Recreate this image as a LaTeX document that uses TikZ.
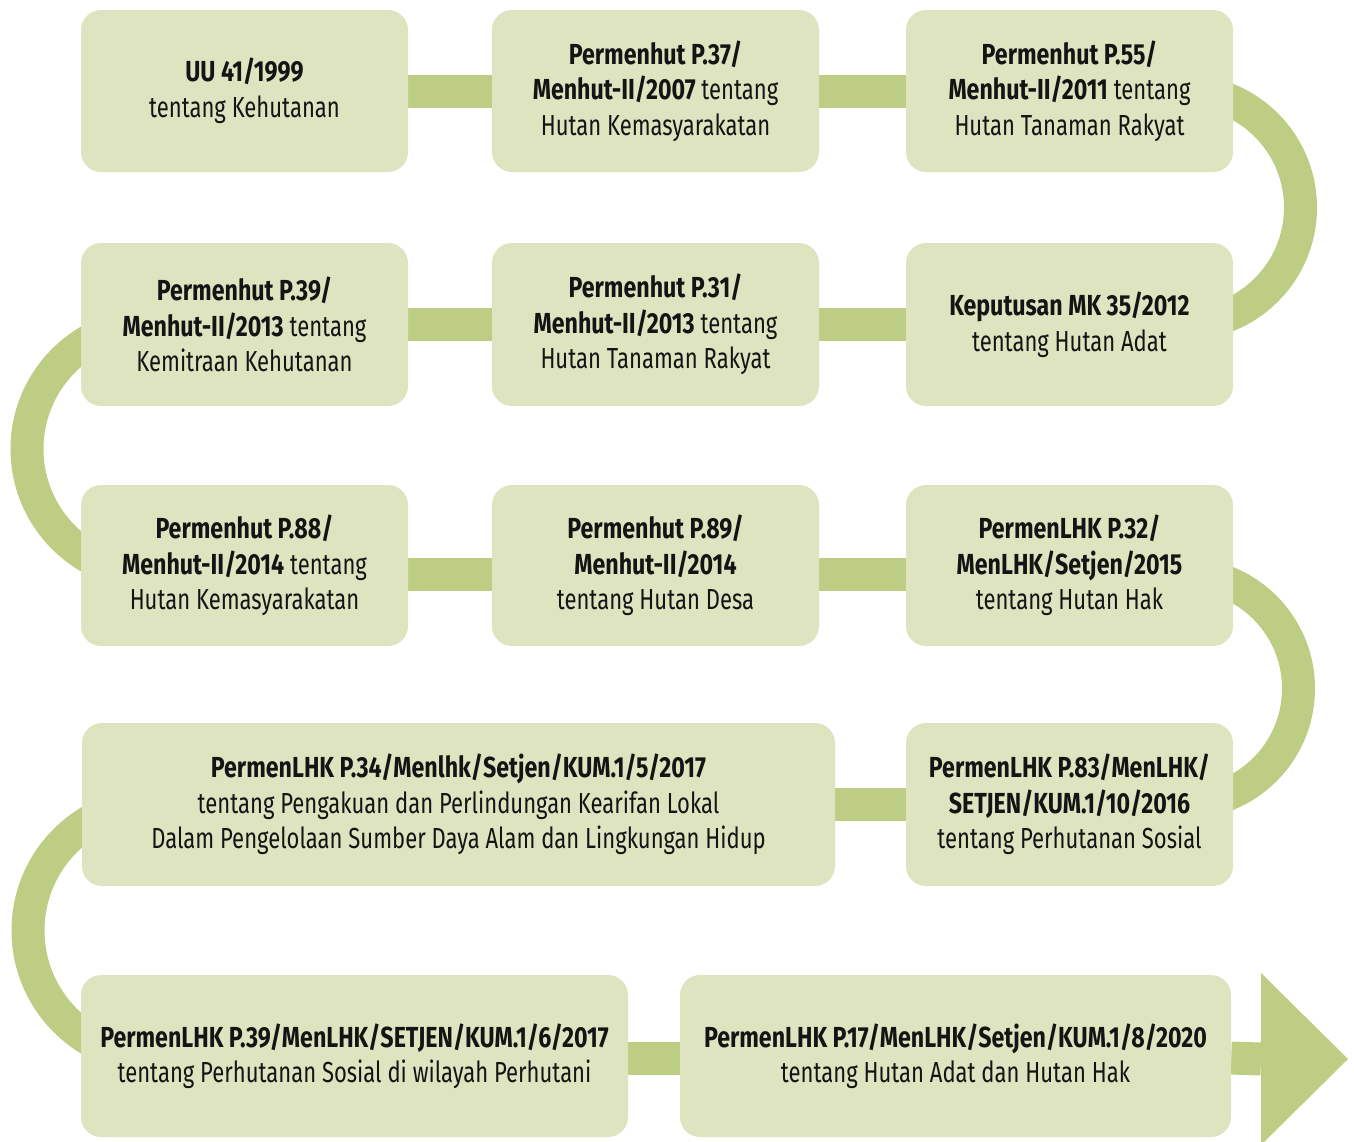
\documentclass[tikz,border=0pt]{standalone}
\usepackage{fontspec}
\setmainfont{Fira Sans}[UprightFeatures={FakeStretch=0.76}, BoldFeatures={FakeStretch=0.80}]
\usetikzlibrary{backgrounds}
\definecolor{boxfill}{RGB}{223,228,192}
\definecolor{barcol}{RGB}{189,206,132}
\begin{document}
\begin{tikzpicture}[x=1pt,y=-1pt,
  box/.style={fill=boxfill, rounded corners=20pt, align=center, inner sep=0pt,
    font=\fontsize{29}{35.5}\selectfont, text=black!92},
  narrowbox/.style={box, minimum width=327pt},
  conn/.style={draw=barcol, line width=33pt}]
\useasboundingbox (0,0) rectangle (1354,1141);
% row 1
\node[narrowbox, minimum height=162pt] (b1) at (244.5,91) {\textbf{UU 41/1999}\\tentang Kehutanan};
\node[narrowbox, minimum height=162pt] (b2) at (655.5,91) {\textbf{Permenhut P.37/}\\\textbf{Menhut-II/2007} tentang\\Hutan Kemasyarakatan};
\node[narrowbox, minimum height=162pt] (b3) at (1069.5,91) {\textbf{Permenhut P.55/}\\\textbf{Menhut-II/2011} tentang\\Hutan Tanaman Rakyat};
% row 2
\node[narrowbox, minimum height=163pt] (b4) at (1069.5,324.5) {\textbf{Keputusan MK 35/2012}\\tentang Hutan Adat};
\node[narrowbox, minimum height=163pt] (b5) at (655.5,324.5) {\textbf{Permenhut P.31/}\\\textbf{Menhut-II/2013} tentang\\Hutan Tanaman Rakyat};
\node[narrowbox, minimum height=163pt] (b6) at (244.5,324.5) {\textbf{Permenhut P.39/}\\\textbf{Menhut-II/2013} tentang\\Kemitraan Kehutanan};
% row 3
\node[narrowbox, minimum height=161pt] (b7) at (244.5,565.5) {\textbf{Permenhut P.88/}\\\textbf{Menhut-II/2014} tentang\\Hutan Kemasyarakatan};
\node[narrowbox, minimum height=161pt] (b8) at (655.5,565.5) {\textbf{Permenhut P.89/}\\\textbf{Menhut-II/2014}\\tentang Hutan Desa};
\node[narrowbox, minimum height=161pt] (b9) at (1069.5,565.5) {\textbf{PermenLHK P.32/}\\\textbf{MenLHK/Setjen/2015}\\tentang Hutan Hak};
% row 4
\node[box, minimum width=753pt, minimum height=163pt] (b10) at (458.5,804.5) {\textbf{PermenLHK P.34/Menlhk/Setjen/KUM.1/5/2017}\\tentang Pengakuan dan Perlindungan Kearifan Lokal\\Dalam Pengelolaan Sumber Daya Alam dan Lingkungan Hidup};
\node[narrowbox, minimum height=163pt] (b11) at (1069.5,804.5) {\textbf{PermenLHK P.83/MenLHK/}\\\textbf{SETJEN/KUM.1/10/2016}\\tentang Perhutanan Sosial};
% row 5
\node[box, minimum width=547pt, minimum height=162pt] (b12) at (354.5,1056) {\textbf{PermenLHK P.39/MenLHK/SETJEN/KUM.1/6/2017}\\tentang Perhutanan Sosial di wilayah Perhutani};
\node[box, minimum width=551pt, minimum height=162pt] (b13) at (955.5,1056) {\textbf{PermenLHK P.17/MenLHK/Setjen/KUM.1/8/2020}\\tentang Hutan Adat dan Hutan Hak};
% arrow head
\coordinate (tipA) at (1261,973);
\coordinate (tip) at (1348,1059);
\coordinate (tipB) at (1261,1145);
\fill[barcol] (tipA) -- (tip) -- (tipB) -- cycle;
\begin{pgfonlayer}{background}
  \draw[conn] (b1.east) -- (b2.west);
  \draw[conn] (b2.east) -- (b3.west);
  \draw[conn] (1184,91) arc[start angle=90, end angle=-90, radius=116.5pt];
  \draw[conn] (b4.west) -- (b5.east);
  \draw[conn] (b5.west) -- (b6.east);
  \draw[conn] (152,324) arc[start angle=90, end angle=270, radius=125pt];
  \draw[conn] ([yshift=-8.5pt]b8.west) -- ([yshift=-8.5pt]b7.east);
  \draw[conn] ([yshift=-8.5pt]b8.east) -- ([yshift=-8.5pt]b9.west);
  \draw[conn] (1184,574) arc[start angle=90, end angle=-90, radius=114.5pt];
  \draw[conn] (b11.west) -- (b10.east);
  \draw[conn] (155,803.5) arc[start angle=90, end angle=270, radius=127pt];
  \draw[conn] ([yshift=-2pt]b12.east) -- ([yshift=-2pt]b13.west);
  \draw[conn] ([yshift=-2pt]b13.east) -- (tipA |- tip);
\end{pgfonlayer}
\end{tikzpicture}
\end{document}
